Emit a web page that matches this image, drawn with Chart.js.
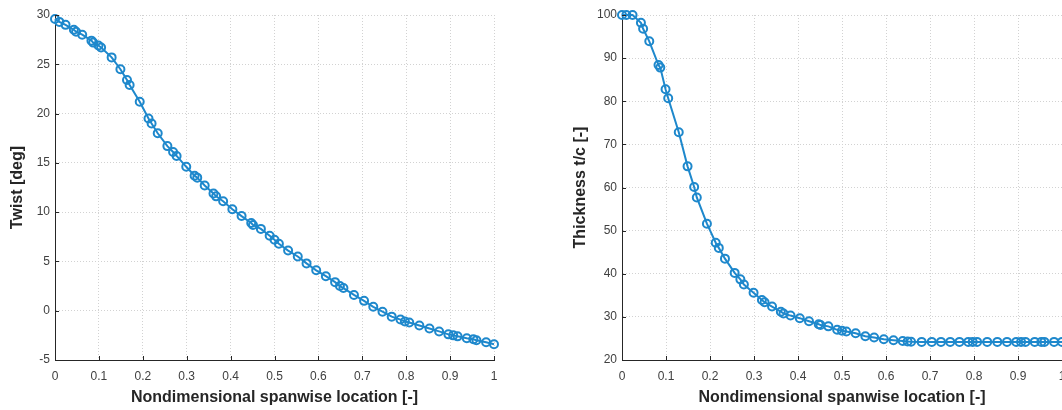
<!DOCTYPE html>
<html>
<head>
<meta charset="utf-8">
<script src="https://cdn.jsdelivr.net/npm/chart.js@4/dist/chart.umd.min.js"></script>
<style>
  html, body { margin: 0; padding: 0; background: #fff; overflow: hidden; }
  body { width: 1062px; height: 410px; position: relative; }
  canvas { position: absolute; top: 0; }
  #twist { left: 0; }
  #thick { left: 560px; }
</style>
</head>
<body>
<canvas id="twist" width="520" height="410"></canvas>
<canvas id="thick" width="527" height="410"></canvas>
<script>
// spanwise stations (shared by both plots)
const span = [0, 0.01, 0.024, 0.043, 0.048, 0.062, 0.083, 0.087, 0.099, 0.105,
  0.129, 0.149, 0.164, 0.17, 0.193, 0.213, 0.22, 0.234, 0.256, 0.269,
  0.277, 0.299, 0.318, 0.324, 0.341, 0.361, 0.367, 0.383, 0.404, 0.425,
  0.447, 0.451, 0.469, 0.489, 0.5, 0.51, 0.531, 0.553, 0.573, 0.595,
  0.617, 0.638, 0.649, 0.657, 0.681, 0.704, 0.725, 0.746, 0.767, 0.787,
  0.797, 0.807, 0.83, 0.853, 0.875, 0.896, 0.907, 0.917, 0.938, 0.953,
  0.96, 0.982, 1.0];

const twist = [29.6, 29.3, 29.0, 28.5, 28.3, 28.0, 27.4, 27.2, 26.9, 26.7,
  25.7, 24.5, 23.4, 22.9, 21.2, 19.5, 19.0, 18.0, 16.7, 16.1,
  15.7, 14.6, 13.7, 13.5, 12.7, 11.9, 11.6, 11.1, 10.3, 9.6,
  8.9, 8.7, 8.3, 7.6, 7.2, 6.8, 6.1, 5.5, 4.8, 4.1,
  3.5, 2.9, 2.5, 2.3, 1.6, 1.0, 0.4, -0.1, -0.6, -0.9,
  -1.1, -1.2, -1.5, -1.8, -2.1, -2.4, -2.5, -2.6, -2.8, -2.9,
  -3.0, -3.2, -3.4];

const thickness = [100, 100, 100, 98.2, 96.8, 93.9, 88.4, 87.8, 82.8, 80.7,
  72.8, 64.9, 60.1, 57.7, 51.6, 47.2, 46.0, 43.5, 40.2, 38.7,
  37.5, 35.6, 33.9, 33.4, 32.4, 31.2, 30.8, 30.3, 29.7, 29.0,
  28.3, 28.1, 27.8, 27.0, 26.8, 26.6, 26.2, 25.5, 25.2, 24.8,
  24.6, 24.4, 24.3, 24.25, 24.2, 24.2, 24.2, 24.2, 24.2, 24.2,
  24.2, 24.2, 24.2, 24.2, 24.2, 24.2, 24.2, 24.2, 24.2, 24.2,
  24.2, 24.2, 24.2];

const xTitle = 'Nondimensional spanwise location [-]';
const blue = 'rgb(30, 136, 204)';
const tickColor = '#404040';
const gridColor = '#d2d2d2';

// small inward tick marks like matlab
const innerTicks = {
  id: 'innerTicks',
  afterDraw(chart) {
    const ctx = chart.ctx;
    const a = chart.chartArea;
    const sx = chart.scales.x, sy = chart.scales.y;
    ctx.save();
    ctx.strokeStyle = '#262626';
    ctx.lineWidth = 1;
    ctx.beginPath();
    sx.ticks.forEach(t => {
      const px = Math.round(sx.getPixelForValue(t.value)) + 0.5;
      ctx.moveTo(px, a.bottom);
      ctx.lineTo(px, a.bottom - 4);
    });
    sy.ticks.forEach(t => {
      const py = Math.round(sy.getPixelForValue(t.value)) + 0.5;
      ctx.moveTo(a.left, py);
      ctx.lineTo(a.left + 4, py);
    });
    ctx.stroke();
    ctx.restore();
  }
};

function makeChart(id, values, yTitle, ymin, ymax, ystep, yWidth, titlePad, padRight) {
  const points = span.map((x, i) => ({x: x, y: values[i]}));
  return new Chart(document.getElementById(id), {
    type: 'line',
    data: {
      datasets: [{
        data: points,
        borderColor: blue,
        backgroundColor: 'rgba(0,0,0,0)',
        borderWidth: 2,
        pointRadius: 4,
        pointBorderWidth: 2,
        pointBorderColor: blue,
        pointBackgroundColor: 'rgba(0,0,0,0)',
        tension: 0,
        clip: false
      }]
    },
    options: {
      responsive: false,
      animation: false,
      devicePixelRatio: 1,
      layout: { padding: { top: 15, right: padRight, left: 0, bottom: 0 } },
      plugins: { legend: { display: false }, tooltip: { enabled: false } },
      scales: {
        x: {
          type: 'linear',
          min: 0, max: 1,
          afterFit: s => { s.height = 50; },
          ticks: {
            stepSize: 0.1,
            padding: 9,
            color: tickColor,
            font: { family: 'Liberation Sans', size: 12 },
            callback: v => String(+v.toFixed(1))
          },
          grid: { color: gridColor, lineWidth: 1, drawTicks: false },
          border: { display: true, color: '#262626', width: 1, dash: [1, 2] },
          title: {
            display: true,
            text: xTitle,
            color: '#262626',
            font: { family: 'Liberation Sans', size: 16, weight: 'bold' },
            padding: { top: 0, bottom: 3 }
          }
        },
        y: {
          min: ymin, max: ymax,
          afterFit: s => { s.width = yWidth; },
          ticks: {
            stepSize: ystep,
            padding: 5,
            color: tickColor,
            font: { family: 'Liberation Sans', size: 12 }
          },
          grid: { color: gridColor, lineWidth: 1, drawTicks: false },
          border: { display: true, color: '#262626', width: 1, dash: [1, 2] },
          title: {
            display: true,
            text: yTitle,
            color: '#262626',
            font: { family: 'Liberation Sans', size: 16, weight: 'bold' },
            padding: { top: titlePad, bottom: 0 }
          }
        }
      }
    },
    plugins: [innerTicks]
  });
}

makeChart('twist', twist, 'Twist [deg]', -5, 30, 5, 55, 8, 26);
makeChart('thick', thickness, 'Thickness t/c [-]', 20, 100, 10, 62, 11, 25);
</script>
</body>
</html>
